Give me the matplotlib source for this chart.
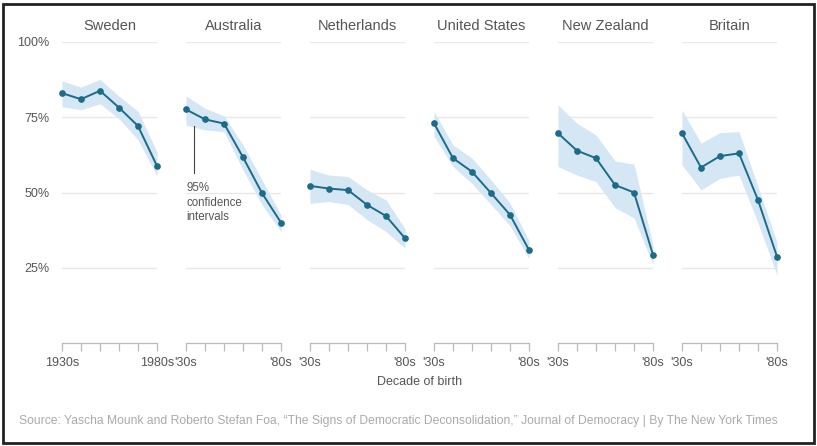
import matplotlib.pyplot as plt
from matplotlib.patches import Rectangle

plt.rcParams['font.family'] = ['Liberation Sans', 'DejaVu Sans']

# data (share saying it is "essential" to live in a democracy, by decade of birth)
decades = [1930, 1940, 1950, 1960, 1970, 1980]
countries = ["Sweden", "Australia", "Netherlands", "United States", "New Zealand", "Britain"]

sweden      = [83.0, 81.0, 83.8, 78.2, 72.1, 58.8]
sweden_hi   = [87.1, 85.0, 87.6, 82.0, 77.0, 63.5]
sweden_lo   = [78.5, 77.5, 79.5, 74.5, 67.5, 55.5]

australia    = [77.6, 74.3, 72.9, 61.7, 49.8, 40.0]
australia_hi = [82.1, 78.0, 75.5, 65.8, 54.2, 42.5]
australia_lo = [72.4, 70.8, 70.2, 57.5, 45.9, 37.0]

netherlands    = [52.2, 51.3, 50.8, 45.9, 42.2, 34.8]
netherlands_hi = [57.7, 55.8, 55.3, 50.9, 47.5, 38.0]
netherlands_lo = [46.4, 47.0, 46.0, 41.0, 37.0, 31.5]

us    = [73.0, 61.4, 56.9, 49.8, 42.6, 30.9]
us_hi = [76.9, 65.8, 61.4, 54.2, 46.5, 34.0]
us_lo = [68.6, 58.6, 53.0, 46.0, 39.0, 28.0]

nz    = [69.7, 63.9, 61.4, 52.5, 50.0, 29.3]
nz_hi = [79.1, 73.0, 69.1, 60.5, 59.4, 32.5]
nz_lo = [58.6, 55.8, 53.6, 45.0, 41.5, 26.0]

britain    = [69.7, 58.3, 62.1, 63.0, 47.5, 28.7]
britain_hi = [77.4, 66.4, 69.9, 70.2, 52.0, 33.5]
britain_lo = [59.2, 50.9, 54.7, 55.8, 39.9, 22.5]

series = [(sweden, sweden_lo, sweden_hi),
          (australia, australia_lo, australia_hi),
          (netherlands, netherlands_lo, netherlands_hi),
          (us, us_lo, us_hi),
          (nz, nz_lo, nz_hi),
          (britain, britain_lo, britain_hi)]

y_ticks = [25, 50, 75, 100]
y_labels = ["25%", "50%", "75%", "100%"]

LINE = "#1c6b87"
BAND = "#d5e7f5"
GRID = "#e8e8e8"
TXT = "#555555"

W, H = 817, 446
fig = plt.figure(figsize=(W / 100, H / 100), dpi=100)
fig.patch.set_facecolor("white")

left0, step, pw = 62, 124, 95
top_px, bot_px = 42, 343

for i, (name, (vals, lo, hi)) in enumerate(zip(countries, series)):
    x0 = left0 + i * step
    ax = fig.add_axes([x0 / W, 1 - bot_px / H, pw / W, (bot_px - top_px) / H])
    ax.set_xlim(1930, 1980)
    ax.set_ylim(0, 100)

    for yt in y_ticks:
        ax.axhline(yt, color=GRID, lw=1, zorder=0)

    ax.fill_between(decades, lo, hi, color=BAND, lw=0, zorder=1, clip_on=False)
    ax.plot(decades, vals, color=LINE, lw=1.4, marker="o", markersize=3.8,
            zorder=3, clip_on=False)

    for s in ["top", "right", "left"]:
        ax.spines[s].set_visible(False)
    ax.spines["bottom"].set_color("#bbbbbb")
    ax.spines["bottom"].set_linewidth(0.9)

    ax.set_xticks(decades)
    if i == 0:
        xl = ["1930s", "", "", "", "", "1980s"]
    else:
        xl = ["'30s", "", "", "", "", "'80s"]
    ax.set_xticklabels(xl, fontsize=9, color=TXT)
    ax.tick_params(axis="x", direction="out", length=6, width=0.9,
                   color="#bbbbbb", pad=4)

    ax.set_yticks(y_ticks)
    if i == 0:
        ax.set_yticklabels(y_labels, fontsize=9, color=TXT)
        ax.tick_params(axis="y", length=0, pad=9)
    else:
        ax.set_yticklabels([])
        ax.tick_params(axis="y", length=0)

    ax.set_title(name, fontsize=10.5, color=TXT, pad=9)

    if name == "Australia":
        ax.plot([1934.4, 1934.4], [56.5, 72.1], color="#444444", lw=0.8, zorder=4)
        ax.text(1930, 53.5, "95%\nconfidence\nintervals", fontsize=8.3,
                color=TXT, va="top", ha="left", linespacing=1.3)

fig.text(420 / W, 1 - 382 / H, "Decade of birth", fontsize=9, color=TXT,
         ha="center", va="center")
fig.text(19 / W, 1 - 421 / H,
         "Source: Yascha Mounk and Roberto Stefan Foa, \u201cThe Signs of Democratic "
         "Deconsolidation,\u201d Journal of Democracy | By The New York Times",
         fontsize=8.75, color="#aaaaaa", ha="left", va="center")

# frame around the picture
fig.add_artist(Rectangle((3 / W, 3 / H), (W - 6) / W, (H - 7) / H,
                         transform=fig.transFigure, fill=False,
                         edgecolor="#222222", lw=2))

fig.savefig("out.png", dpi=100)
